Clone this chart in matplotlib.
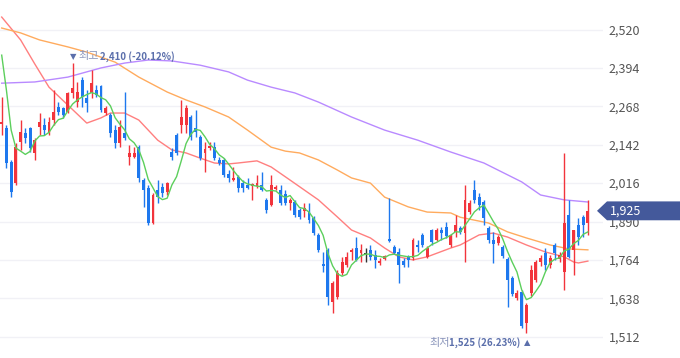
import numpy as np
import pandas as pd
import matplotlib
matplotlib.use('Agg')
import matplotlib.pyplot as plt
from matplotlib.patches import Polygon
from matplotlib.transforms import blended_transform_factory

plt.rcParams['font.family'] = ['Noto Sans CJK KR', 'DejaVu Sans']

# daily candles, oldest first
opens = [2210, 2197, 2085, 2016, 2151, 2180, 2197, 2115, 2200, 2207,
         2180, 2223, 2266, 2263, 2249, 2312, 2282, 2354, 2295, 2312,
         2321, 2335, 2246, 2240, 2190, 2148, 2180, 2102, 2102, 2134,
         2026, 2000, 1885, 1993, 2003, 1987, 2118, 2174, 2207, 2207,
         2233, 2197, 2167, 2115, 2131, 2134, 2092, 2092, 2046, 2026,
         2036, 2016, 2010, 2007, 2007, 2010, 1961, 1944, 1997, 1993,
         1980, 1951, 1954, 1928, 1924, 1921, 1901, 1846, 1751, 1797,
         1626, 1642, 1721, 1747, 1790, 1803, 1787, 1783, 1797, 1780,
         1754, 1767, 1833, 1806, 1790, 1760, 1774, 1770, 1813, 1846,
         1774, 1862, 1829, 1862, 1872, 1813, 1856, 1869, 1852, 1921,
         1993, 1970, 1954, 1869, 1829, 1820, 1806, 1767, 1705, 1639,
         1659, 1557, 1655, 1698, 1757, 1787, 1747, 1813, 1767, 1724,
         1911, 1797, 1879, 1905, 1885]
highs = [2299, 2207, 2092, 2148, 2223, 2197, 2200, 2164, 2246, 2230,
         2233, 2321, 2282, 2266, 2315, 2410, 2348, 2364, 2321, 2387,
         2338, 2338, 2269, 2246, 2207, 2223, 2315, 2141, 2134, 2141,
         2033, 2010, 1984, 2026, 2016, 2020, 2131, 2180, 2289, 2272,
         2240, 2256, 2174, 2151, 2151, 2151, 2102, 2098, 2059, 2069,
         2043, 2026, 2033, 2016, 2043, 2052, 1967, 2043, 2010, 2010,
         1993, 1967, 1961, 1934, 1951, 1951, 1908, 1852, 1790, 1803,
         1695, 1731, 1774, 1790, 1803, 1839, 1816, 1803, 1813, 1797,
         1770, 1780, 1967, 1813, 1803, 1770, 1780, 1836, 1829, 1852,
         1810, 1865, 1869, 1872, 1888, 1849, 1911, 1875, 2010, 1961,
         2026, 1984, 1961, 1875, 1856, 1846, 1813, 1774, 1711, 1665,
         1665, 1623, 1747, 1764, 1780, 1803, 1780, 1820, 1790, 2115,
         1961, 1862, 1901, 1911, 1961]
lows = [2174, 2066, 1970, 2010, 2125, 2148, 2118, 2092, 2174, 2174,
        2174, 2207, 2240, 2230, 2246, 2295, 2266, 2266, 2249, 2295,
        2299, 2249, 2240, 2167, 2131, 2134, 2157, 2075, 2098, 2020,
        1938, 1879, 1882, 1951, 1970, 1977, 2092, 2108, 2180, 2180,
        2157, 2167, 2092, 2052, 2125, 2092, 2075, 2036, 2020, 2023,
        1987, 1987, 1997, 1961, 2000, 1990, 1918, 1941, 1993, 1944,
        1944, 1928, 1905, 1898, 1905, 1885, 1846, 1790, 1724, 1616,
        1590, 1636, 1715, 1741, 1764, 1760, 1757, 1757, 1764, 1737,
        1747, 1764, 1823, 1783, 1688, 1741, 1741, 1764, 1790, 1806,
        1770, 1813, 1826, 1829, 1836, 1806, 1839, 1849, 1757, 1915,
        1951, 1928, 1879, 1820, 1754, 1813, 1770, 1610, 1646, 1633,
        1541, 1525, 1646, 1692, 1744, 1731, 1737, 1764, 1757, 1665,
        1770, 1715, 1813, 1839, 1846]
closes = [2218, 2082, 1987, 2134, 2184, 2164, 2131, 2157, 2217, 2190,
          2217, 2249, 2249, 2240, 2312, 2328, 2315, 2299, 2279, 2344,
          2305, 2256, 2263, 2180, 2148, 2200, 2164, 2115, 2115, 2033,
          1993, 1885, 1977, 1970, 1984, 2016, 2102, 2115, 2233, 2263,
          2167, 2184, 2098, 2128, 2138, 2098, 2082, 2043, 2033, 2033,
          2000, 2000, 2000, 2013, 2016, 1993, 1928, 2010, 2003, 1951,
          1951, 1961, 1911, 1905, 1934, 1895, 1852, 1797, 1744, 1642,
          1688, 1721, 1757, 1774, 1797, 1764, 1797, 1783, 1774, 1764,
          1760, 1777, 1826, 1787, 1747, 1747, 1764, 1829, 1806, 1813,
          1803, 1823, 1862, 1852, 1843, 1846, 1879, 1856, 1961, 1951,
          1961, 1944, 1901, 1829, 1816, 1839, 1777, 1698, 1652, 1655,
          1547, 1616, 1731, 1757, 1770, 1747, 1770, 1787, 1780, 1885,
          1774, 1862, 1839, 1879, 1925]

# 5-day average for the first four days (needs days before the window)
ma5_head = [2436, 2321, 2190, 2131]

# longer moving averages
ma20_day = [0, 4, 7, 10, 14, 18, 21, 23, 26, 29, 33, 36, 39, 42, 45, 48, 50, 54, 57,
            61, 67, 71, 74, 78, 81, 84, 87, 90, 95, 97, 101, 104, 107, 111, 115, 119,
            121, 122, 124]
ma20_val = [2561, 2486, 2407, 2331, 2272, 2213, 2230, 2246, 2246, 2223, 2157, 2125,
            2115, 2098, 2082, 2079, 2082, 2089, 2069, 2026, 1961, 1905, 1862, 1836,
            1803, 1774, 1764, 1774, 1803, 1813, 1846, 1852, 1839, 1813, 1790, 1774,
            1757, 1754, 1760]
ma60_day = [0, 4, 8, 14, 18, 24, 29, 35, 39, 43, 48, 52, 57, 60, 63, 67, 71, 74, 78,
            81, 86, 90, 95, 97, 103, 107, 111, 116, 120, 124]
ma60_val = [2525, 2509, 2486, 2463, 2446, 2413, 2364, 2315, 2289, 2266, 2233, 2190,
            2134, 2121, 2115, 2092, 2059, 2033, 2016, 1970, 1938, 1921, 1918, 1904,
            1885, 1856, 1836, 1813, 1800, 1797]
ma120_day = [0, 7, 14, 21, 26, 31, 36, 42, 48, 52, 57, 62, 67, 74, 81, 88, 95, 102,
             110, 114, 119, 124]
ma120_val = [2344, 2348, 2364, 2394, 2410, 2420, 2417, 2403, 2381, 2354, 2331, 2312,
             2282, 2233, 2190, 2157, 2118, 2082, 2020, 1977, 1961, 1954]

yticks = [1512, 1638, 1764, 1890, 2016, 2142, 2268, 2394, 2520]
high_day, high_text = 15, '2,410 (-20.12%)'
low_day, low_text = 111, '1,525 (26.23%)'

UP = '#f2343c'
DOWN = '#1e78ee'
LABEL = '#5b6fab'

df = pd.DataFrame({'o': opens, 'h': highs, 'l': lows, 'c': closes})
ma5 = df.c.rolling(5).mean().values
ma5[:4] = ma5_head
days = np.arange(len(df))

fig = plt.figure(figsize=(6.8, 3.58), dpi=100)
ax = fig.add_axes([0, 0, 603 / 680, 1])

colors = np.where(df.c > df.o, UP, np.where(df.c < df.o, DOWN, '#333333'))
ax.vlines(days, df.l, df.h, colors=colors, lw=1, zorder=3)
body = np.maximum((df.c - df.o).abs(), 3.5)
ax.bar(days, body, bottom=np.minimum(df.o, df.c), width=0.62, color=colors, lw=0, zorder=3)

ax.plot(days, ma5, color='#5ccf5c', lw=1, zorder=4)
ax.plot(ma20_day, ma20_val, color='#ff7f7f', lw=1, zorder=2)
ax.plot(ma60_day, ma60_val, color='#ffab5e', lw=1, zorder=2)
ax.plot(ma120_day, ma120_val, color='#b98aff', lw=1, zorder=2)

ax.set_xlim(-0.36, 127.2)
ax.set_ylim(1442, 2617)
ax.set_xticks([])
ax.set_yticks(yticks)
ax.set_yticklabels([f'{v:,}' for v in yticks])
ax.yaxis.tick_right()
ax.tick_params(axis='y', length=0, pad=4, labelsize=9, labelcolor='#555555')
ax.grid(axis='y', color='#f1f1f6', lw=1, zorder=0)
for s in ax.spines.values():
    s.set_visible(False)

# highest / lowest markers
hi = df.h[high_day]
ax.annotate('▼', (high_day, hi), xytext=(0.7, 5), textcoords='offset points',
            ha='center', va='center', fontsize=6, color=LABEL, family='DejaVu Sans')
ax.annotate('최고', (high_day, hi), xytext=(4.4, 5), textcoords='offset points',
            ha='left', va='center', fontsize=8, color='#8a95bb')
ax.annotate(high_text, (high_day, hi), xytext=(19.5, 5), textcoords='offset points',
            ha='left', va='center', fontsize=7, color=LABEL, weight='bold')

lo = df.l[low_day]
ax.annotate('▲', (low_day, lo), xytext=(0.4, -7.2), textcoords='offset points',
            ha='center', va='center', fontsize=6, color=LABEL, family='DejaVu Sans')
ax.annotate(low_text, (low_day, lo), xytext=(-4, -7.2), textcoords='offset points',
            ha='right', va='center', fontsize=7, color=LABEL, weight='bold')
ax.annotate('최저', (low_day, lo), xytext=(-55, -7.2), textcoords='offset points',
            ha='right', va='center', fontsize=8, color='#8a95bb')

# last price tag
last = closes[-1]
tr = blended_transform_factory(fig.transFigure, ax.transData)
tag = Polygon([(597 / 680, last), (607 / 680, last + 31), (1, last + 31),
               (1, last - 31), (607 / 680, last - 31)], closed=True,
              transform=tr, facecolor='#44599b', edgecolor='none',
              clip_on=False, zorder=10)
fig.patches.append(tag)
fig.text(610 / 680, 0, f'{last:,}', transform=tr, color='white', fontsize=9,
         va='center', ha='left', zorder=11).set_y(last)

fig.savefig('out.png', dpi=100)
